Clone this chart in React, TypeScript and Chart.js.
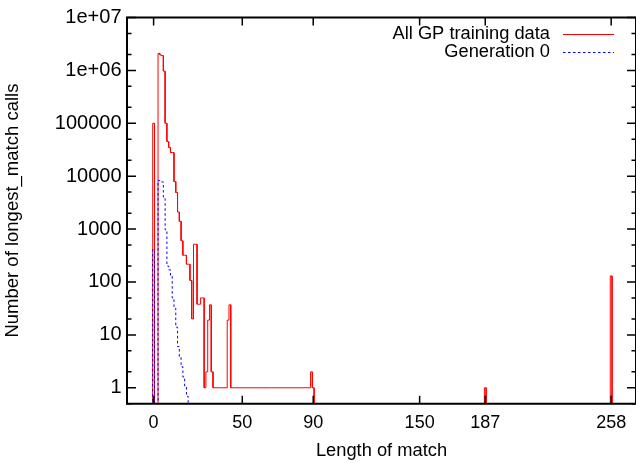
import React, { useEffect, useRef } from "react";
import { Chart, registerables } from "chart.js";

Chart.register(...registerables);

// ---- data ----
const xTickValues = [0, 50, 90, 150, 187, 258];
const yDecades = [1, 10, 100, 1000, 10000, 100000, 1000000, 10000000];
const yDecadeLabels = ["1", "10", "100", "1000", "10000", "100000", "1e+06", "1e+07"];
const yMinorMultipliers = [2, 5];

const seriesNames = ["All GP training data", "Generation 0"];

// histeps points: length of match -> number of calls (0 = none)
const allLengths = [
  0, 1, 2, 3, 4, 5, 6, 7, 8, 9, 10, 11, 12, 13, 14, 15, 16, 17, 18, 19, 20,
  21, 22, 23, 24, 25, 26, 27, 28, 29, 30, 31, 32, 33, 34, 41, 42, 43, 44,
  88, 89, 90, 91, 186, 187, 188, 257, 258, 259,
];
const allCounts = [
  100000, 0, 0, 2100000, 1950000, 1900000, 970000, 100000, 45000, 35000, 28000,
  28000, 7900, 4900, 2100, 1400, 600, 320, 320, 217, 217,
  107, 20, 516, 516, 38, 38, 50, 50, 1, 2, 19, 37, 2, 1, 1, 19, 37, 1,
  1, 2, 1, 0, 0, 1, 0, 0, 130, 0,
];

const gen0Lengths = [
  0, 1, 2, 3, 4, 5, 6, 7, 8, 9, 10, 11, 12, 13, 14, 15, 16, 17, 18, 19, 20,
];
const gen0Counts = [
  410, 0, 0, 8300, 8000, 7800, 4000, 970, 200, 170, 130, 50, 32, 14, 6, 3.8,
  2.5, 1.6, 1.05, 0.69, 0,
];

const X_MIN = -15;
const X_MAX = 272;
const Y_MIN = 0.5;
const Y_MAX = 1e7;
const FLOOR = 1e-3; // below the axis: a zero count drops to the bottom border

function histeps(xs: number[], ys: number[]) {
  const pts: { x: number; y: number }[] = [];
  for (let i = 0; i < xs.length; i++) {
    const left = i === 0 ? xs[0] - (xs[1] - xs[0]) / 2 : (xs[i - 1] + xs[i]) / 2;
    const right =
      i === xs.length - 1 ? xs[i] + (xs[i] - xs[i - 1]) / 2 : (xs[i] + xs[i + 1]) / 2;
    const v = ys[i] > 0 ? ys[i] : FLOOR;
    if (i === 0) pts.push({ x: left, y: FLOOR });
    pts.push({ x: left, y: v }, { x: right, y: v });
  }
  return pts;
}

const FONT = "'Liberation Sans', Arial, Helvetica, sans-serif";

const framePlugin = {
  id: "gnuplotFrame",
  afterDatasetsDraw(chart: any) {
    const { ctx, chartArea, scales } = chart;
    const { left, right, top, bottom } = chartArea;
    const xs = scales.x;
    const ys = scales.y;
    ctx.save();
    ctx.strokeStyle = "#000";
    // ticks (inward, mirrored)
    ctx.lineWidth = 1.5;
    ctx.beginPath();
    ys.ticks.forEach((t: any) => {
      const py = ys.getPixelForValue(t.value);
      const isMajor = Math.abs(Math.log10(t.value) - Math.round(Math.log10(t.value))) < 1e-9;
      const len = isMajor ? 9 : 4.5;
      ctx.moveTo(left, py);
      ctx.lineTo(left + len, py);
      ctx.moveTo(right, py);
      ctx.lineTo(right - len, py);
    });
    xs.ticks.forEach((t: any) => {
      const px = xs.getPixelForValue(t.value);
      ctx.moveTo(px, bottom);
      ctx.lineTo(px, bottom - 8);
      ctx.moveTo(px, top);
      ctx.lineTo(px, top + 8);
    });
    ctx.stroke();
    // border
    ctx.lineWidth = 2;
    ctx.beginPath();
    ctx.moveTo(right, top);
    ctx.lineTo(left, top);
    ctx.lineTo(left, bottom);
    ctx.lineTo(right, bottom);
    ctx.lineTo(right, top);
    ctx.stroke();
    ctx.restore();
  },
  afterDraw(chart: any) {
    // gnuplot style key: text right-aligned, sample line to its right
    const { ctx, chartArea } = chart;
    const textRight = chartArea.right - 86;
    const lineStart = chartArea.right - 73;
    const lineEnd = chartArea.right - 22;
    ctx.save();
    ctx.font = `18.3px ${FONT}`;
    ctx.fillStyle = "#000";
    ctx.textAlign = "right";
    ctx.textBaseline = "middle";
    chart.data.datasets.forEach((ds: any, i: number) => {
      const y = chartArea.top + 16.5 + i * 18.3;
      ctx.fillText(ds.label, textRight, y);
      ctx.beginPath();
      ctx.strokeStyle = ds.borderColor;
      ctx.lineWidth = ds.borderWidth;
      ctx.setLineDash(ds.borderDash || []);
      ctx.moveTo(lineStart, Math.round(y) + 0.5);
      ctx.lineTo(lineEnd, Math.round(y) + 0.5);
      ctx.stroke();
    });
    ctx.restore();
  },
};

export default function App() {
  const canvasRef = useRef<HTMLCanvasElement | null>(null);

  useEffect(() => {
    const canvas = canvasRef.current;
    if (!canvas) return;

    const yTickList: number[] = [];
    yDecades.forEach((d) => {
      yTickList.push(d);
      if (d < Y_MAX) yMinorMultipliers.forEach((m) => yTickList.push(d * m));
    });
    yTickList.push(Y_MIN);

    const chart = new Chart(canvas, {
      type: "line",
      data: {
        datasets: [
          {
            label: seriesNames[0],
            data: histeps(allLengths, allCounts),
            borderColor: "rgb(255,0,0)",
            borderWidth: 1,
            pointRadius: 0,
            tension: 0,
            fill: false,
            order: 1,
          },
          {
            label: seriesNames[1],
            data: histeps(gen0Lengths, gen0Counts),
            borderColor: "rgb(0,0,255)",
            borderWidth: 1,
            borderDash: [2.5, 2.5],
            pointRadius: 0,
            tension: 0,
            fill: false,
            order: 0,
          },
        ],
      },
      options: {
        animation: false,
        responsive: false,
        devicePixelRatio: 1,
        layout: { padding: { top: 13, right: 0, bottom: 0, left: 0 } },
        plugins: {
          legend: { display: false },
          tooltip: { enabled: false },
        },
        scales: {
          x: {
            type: "linear",
            min: X_MIN,
            max: X_MAX,
            grid: { display: false, drawTicks: false },
            border: { display: false },
            afterBuildTicks: (scale: any) => {
              scale.ticks = xTickValues.map((v) => ({ value: v }));
            },
            afterFit: (scale: any) => {
              scale.height = 59.3;
            },
            ticks: {
              autoSkip: false,
              maxRotation: 0,
              padding: 8.5,
              color: "#000",
              font: { family: FONT, size: 18 },
              callback: (v: any) => String(v),
            },
            title: {
              display: true,
              text: "Length of match",
              color: "#000",
              font: { family: FONT, size: 18.3 },
              padding: { top: 0, bottom: 1 },
            },
          },
          y: {
            type: "logarithmic",
            min: Y_MIN,
            max: Y_MAX,
            grid: { display: false, drawTicks: false },
            border: { display: false },
            afterBuildTicks: (scale: any) => {
              scale.ticks = yTickList
                .filter((v) => v >= Y_MIN && v <= Y_MAX)
                .sort((a, b) => a - b)
                .map((v) => ({ value: v }));
            },
            afterFit: (scale: any) => {
              scale.width = 127;
            },
            ticks: {
              autoSkip: false,
              padding: 5.5,
              color: "#000",
              font: { family: FONT, size: 20 },
              callback: (v: any) => {
                const idx = yDecades.indexOf(Number(v));
                return idx >= 0 ? yDecadeLabels[idx] : "";
              },
            },
            title: {
              display: true,
              text: "Number of longest_match calls",
              color: "#000",
              font: { family: FONT, size: 18.5 },
              padding: { top: 2, bottom: 0 },
            },
          },
        },
      },
      plugins: [framePlugin],
    });

    return () => chart.destroy();
  }, []);

  return (
    <div style={{ position: "fixed", left: 0, top: 0, width: 636, height: 463, background: "#fff" }}>
      <canvas ref={canvasRef} width={636} height={463} style={{ display: "block" }} />
    </div>
  );
}
